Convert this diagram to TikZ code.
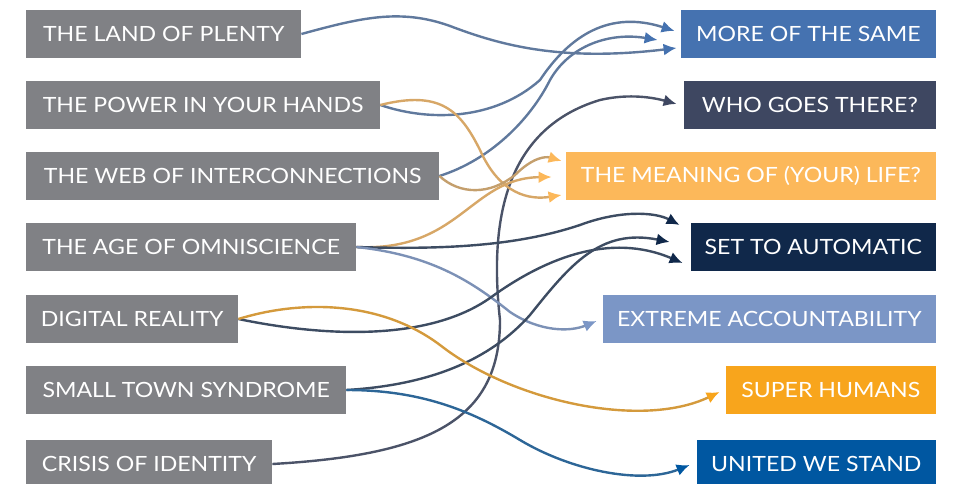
\documentclass[tikz,border=0pt]{standalone}
\usepackage{fontspec}
\setmainfont{Lato}[FakeStretch=1.1]
\usepackage{tikz}
\usetikzlibrary{arrows.meta}
\usetikzlibrary{calc}

\definecolor{topicgray}{HTML}{808185}
\definecolor{moreblue}{HTML}{4572B0}
\definecolor{whoslate}{HTML}{3E4761}
\definecolor{meanorange}{HTML}{FCB85A}
\definecolor{setnavy}{HTML}{10284A}
\definecolor{extblue}{HTML}{7B96C6}
\definecolor{suporange}{HTML}{F8A51C}
\definecolor{uniblue}{HTML}{0057A1}

\tikzset{link/.style 2 args={draw=#1, line width=2.4pt, -{Latex[length=13pt, width=12pt, color=#2]}}}

\begin{document}
\begin{tikzpicture}[x=1pt, y=-1pt,
        topic/.style={fill=#1, text=white, minimum height=48pt, inner sep=0pt,
                      font=\fontsize{21}{21}\selectfont},
        topic/.default=topicgray]
        \useasboundingbox (0,0) rectangle (960,484);

        % left column
        \node[topic, anchor=west, minimum width=275pt](land) at (26,34) {THE LAND OF PLENTY};
        \node[topic, anchor=west, minimum width=354pt](power) at (26,105) {THE POWER IN YOUR HANDS};
        \node[topic, anchor=west, minimum width=413pt](web) at (26,176) {THE WEB OF INTERCONNECTIONS};
        \node[topic, anchor=west, minimum width=330pt](age) at (26,247) {THE AGE OF OMNISCIENCE};
        \node[topic, anchor=west, minimum width=212pt](digital) at (26,319) {DIGITAL REALITY};
        \node[topic, anchor=west, minimum width=320pt](small) at (26,390) {SMALL TOWN SYNDROME};
        \node[topic, anchor=west, minimum width=246pt](crisis) at (26,464) {CRISIS OF IDENTITY};

        % right column
        \node[topic=moreblue, anchor=east, minimum width=255pt](more) at (936,34) {MORE OF THE SAME};
        \node[topic=whoslate, anchor=east, minimum width=252pt](who) at (936,105) {WHO GOES THERE?};
        \node[topic=meanorange, anchor=east, minimum width=370pt](mean) at (936,176) {THE MEANING OF (YOUR) LIFE?};
        \node[topic=setnavy, anchor=east, minimum width=245pt](set) at (936,247) {SET TO AUTOMATIC};
        \node[topic=extblue, anchor=east, minimum width=333pt](ext) at (936,319) {EXTREME ACCOUNTABILITY};
        \node[topic=suporange, anchor=east, minimum width=210pt](sup) at (936,390) {SUPER HUMANS};
        \node[topic=uniblue, anchor=east, minimum width=239pt](uni) at (936,464) {UNITED WE STAND};

        % connectors
        \draw[link={moreblue!55!topicgray}{moreblue}] (land.east) .. controls (360,18) and (400,8) .. (450,26)
            .. controls (500,45) and (560,62) .. ($(more.west)+(-4,14)$);
        \draw[link={moreblue!55!topicgray}{moreblue}] (power.east) .. controls (430,122) and (495,120) .. (540,80)
            .. controls (570,35) and (610,10) .. ($(more.west)+(-6,-3)$);
        \draw[link={moreblue!55!topicgray}{moreblue}] (web.east) .. controls (490,160) and (530,120) .. (550,80)
            .. controls (570,45) and (610,32) .. ($(more.west)+(-23,6)$);
        \draw[link={whoslate!80!topicgray}{whoslate}] (crisis.east) .. controls (430,455) and (500,420) .. (500,320)
            .. controls (490,230) and (500,130) .. (600,100) .. controls (630,93) and (655,98) .. ($(who.west)+(-7,-1)$);
        \draw[link={meanorange!70!topicgray}{meanorange}] (power.east) .. controls (440,90) and (460,110) .. (480,150)
            .. controls (500,195) and (530,200) .. ($(mean.west)+(-4,19)$);
        \draw[link={meanorange!55!topicgray}{meanorange}] (web.east) .. controls (460,195) and (490,195) .. (515,175)
            .. controls (532,158) and (545,156) .. ($(mean.west)+(-4,-15)$);
        \draw[link={meanorange!70!topicgray}{meanorange}] (age.east) .. controls (460,252) and (470,178) .. ($(mean.west)+(-14,1)$);
        \draw[link={setnavy!60!topicgray}{setnavy}] (age.east) .. controls (450,250) and (520,245) .. (580,225)
            .. controls (620,210) and (655,212) .. ($(set.west)+(-11,-22)$);
        \draw[link={extblue!75!topicgray}{extblue}] (age.east) .. controls (430,255) and (470,280) .. (510,312)
            .. controls (540,332) and (570,332) .. ($(ext.west)+(-6,2)$);
        \draw[link={setnavy!60!topicgray}{setnavy}] (digital.east) .. controls (330,338) and (430,340) .. (490,298)
            .. controls (545,258) and (610,232) .. ($(set.west)+(-8,16)$);
        \draw[link={setnavy!60!topicgray}{setnavy}] (small.east) .. controls (430,385) and (490,360) .. (530,315)
            .. controls (570,265) and (600,228) .. ($(set.west)+(-21,-5)$);
        \draw[link={suporange!70!topicgray}{suporange}] (digital.east) .. controls (300,300) and (380,300) .. (440,345)
            .. controls (510,400) and (640,430) .. ($(sup.west)+(-6,2)$);
        \draw[link={uniblue!65!topicgray}{uniblue}] (small.east) .. controls (420,390) and (470,410) .. (520,440)
            .. controls (570,470) and (640,485) .. ($(uni.west)+(-7,1)$);
\end{tikzpicture}
\end{document}
